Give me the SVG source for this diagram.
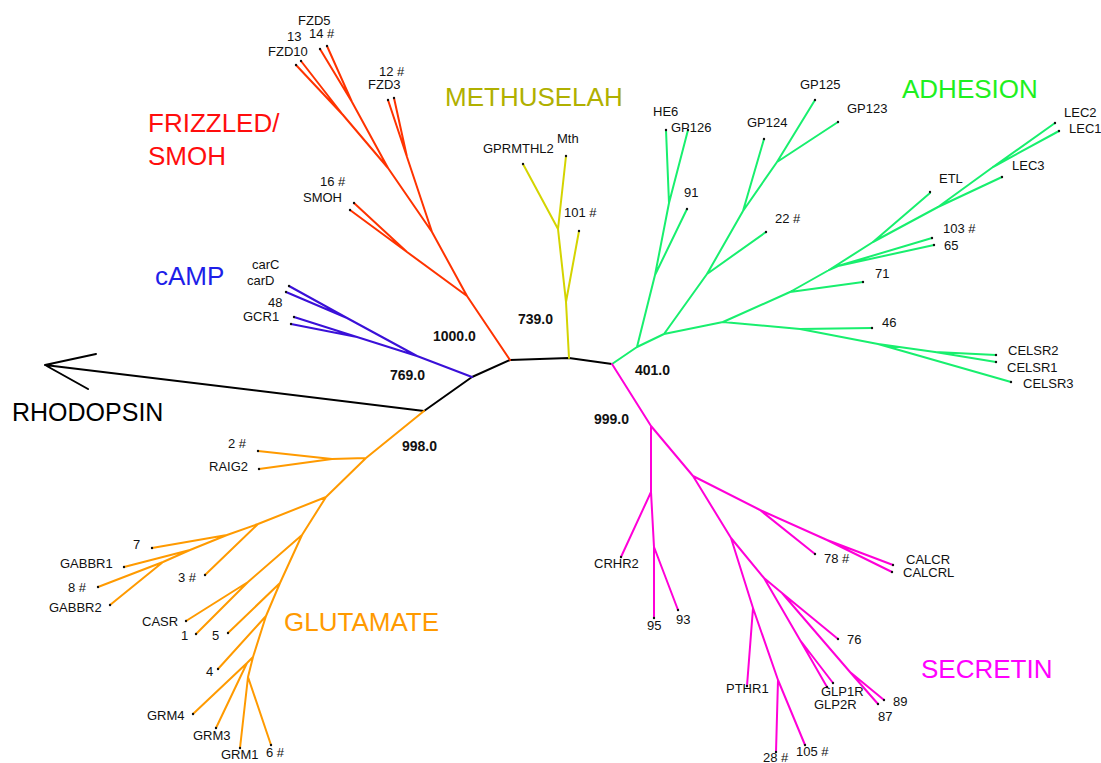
<svg xmlns="http://www.w3.org/2000/svg" width="1101" height="763" viewBox="0 0 1101 763">
<style>
text{font-family:"Liberation Sans",Arial,sans-serif}
.lbl{font-size:13px;fill:#111}
.bs{font-size:14px;font-weight:bold;fill:#111}
.title{font-size:26px}
.br{fill:none;stroke-width:2;stroke-linecap:round;stroke-linejoin:round}
.dot{fill:#111}
.bk{stroke:#000}
.fz{stroke:#ff3300}
.ca{stroke:#3a10d8}
.me{stroke:#d4d400}
.ad{stroke:#18ef6e}
.se{stroke:#ff00d8}
.gl{stroke:#ff9a00}
</style>
<g id="connectors">
<path class="br bk" d="M45,365 L424,411 L472,377 L510,360 L569,358 L612,364 M96,354 L45,365 L88,389"/>
<path class="br fz" d="M510,360 L467,296 M467,296 L407,252 L354,203 M407,252 L350,210 M467,296 L432,232 M432,232 L407,157 L394,98 M407,157 L388,100 M432,232 L388,168 M388,168 L343,115 L301,61 M343,115 L296,65 M388,168 L352,102 L327,46 M352,102 L320,49"/>
<path class="br ca" d="M472,377 L417,356 M417,356 L347,318 L289,286 M347,318 L286,292 M417,356 L357,337 L294,317 M357,337 L291,324"/>
<path class="br me" d="M569,358 L566,302 L558,229 L566,156 M558,229 L523,164 M566,302 L579,231"/>
<path class="br ad" d="M612,364 L637,347 M637,347 L655,275 L669,203 L666,130 M669,203 L688,130 M655,275 L687,209 M637,347 L664,334 M664,334 L707,274 L743,211 L777,162 L815,100 M777,162 L838,122 M743,211 L764,139 M707,274 L766,232 M664,334 L723,322 M723,322 L790,292 L829,270 L873,242 L930,193 M873,242 L938,207 L993,167 L1055,123 M993,167 L1059,131 M938,207 L1002,177 M829,270 L838,266 L932,238 M838,266 L934,245 M790,292 L863,282 M723,322 L800,329 L872,328 M800,329 L878,344 L935,352 L996,355 M935,352 L996,362 M878,344 L1011,382"/>
<path class="br se" d="M612,364 L651,426 M651,426 L651,492 L621,557 M651,492 L654,547 L654,618 M654,547 L678,610 M651,426 L693,476 M693,476 L760,510 L815,554 M760,510 L827,540 L893,565 M827,540 L892,572 M693,476 L731,538 M731,538 L753,608 L747,686 M753,608 L778,680 L776,752 M778,680 L805,745 M731,538 L764,578 M764,578 L800,640 L827,687 M800,640 L833,683 M764,578 L782,593 L838,639 M782,593 L850,672 L878,704 M850,672 L884,700"/>
<path class="br gl" d="M424,411 L366,458 M366,458 L332,459 L258,451 M332,459 L259,469 M366,458 L326,497 M326,497 L258,524 L205,575 M258,524 L227,535 L152,548 M227,535 L190,550 L124,567 M190,550 L163,562 L98,587 M163,562 L110,605 M326,497 L302,535 M302,535 L248,582 L186,621 M248,582 L196,634 M302,535 L280,583 L228,633 M280,583 L266,616 L218,669 M266,616 L253,657 L247,663 L193,714 M247,663 L216,728 M253,657 L248,677 L240,748 M248,677 L271,745"/>
</g>
<g id="bootstrap">
<text class="bs" x="433" y="341">1000.0</text>
<text class="bs" x="390" y="380">769.0</text>
<text class="bs" x="518" y="324">739.0</text>
<text class="bs" x="635" y="375">401.0</text>
<text class="bs" x="594" y="424">999.0</text>
<text class="bs" x="402" y="451">998.0</text>
</g>
<g id="title-frizzled"><text class="title" fill="#ff0d0d" x="148" y="132">FRIZZLED/</text><text class="title" fill="#ff0d0d" x="148" y="165">SMOH</text></g>
<g id="title-camp"><text class="title" fill="#1e1ee8" x="155" y="285">cAMP</text></g>
<g id="title-methuselah"><text class="title" fill="#b0b000" x="445" y="106">METHUSELAH</text></g>
<g id="title-adhesion"><text class="title" fill="#1ef01e" x="902" y="98">ADHESION</text></g>
<g id="title-rhodopsin"><text class="title" fill="#000" x="12" y="421" style="font-size:25px">RHODOPSIN</text></g>
<g id="title-glutamate"><text class="title" fill="#ff9a00" x="284" y="631">GLUTAMATE</text></g>
<g id="title-secretin"><text class="title" fill="#ff00ff" x="921" y="678">SECRETIN</text></g>
<g id="leaf-FZD5"><circle class="dot" cx="320" cy="49" r="1.2"/><text class="lbl" x="298" y="25">FZD5</text></g>
<g id="leaf-14"><circle class="dot" cx="327" cy="46" r="1.2"/><text class="lbl" x="309" y="38">14 #</text></g>
<g id="leaf-13"><circle class="dot" cx="301" cy="61" r="1.2"/><text class="lbl" x="287" y="41">13</text></g>
<g id="leaf-FZD10"><circle class="dot" cx="296" cy="65" r="1.2"/><text class="lbl" x="268" y="56">FZD10</text></g>
<g id="leaf-12"><circle class="dot" cx="394" cy="98" r="1.2"/><text class="lbl" x="379" y="76">12 #</text></g>
<g id="leaf-FZD3"><circle class="dot" cx="388" cy="100" r="1.2"/><text class="lbl" x="368" y="89">FZD3</text></g>
<g id="leaf-16"><circle class="dot" cx="354" cy="203" r="1.2"/><text class="lbl" x="320" y="186">16 #</text></g>
<g id="leaf-SMOH"><circle class="dot" cx="350" cy="210" r="1.2"/><text class="lbl" x="303" y="202">SMOH</text></g>
<g id="leaf-carC"><circle class="dot" cx="289" cy="286" r="1.2"/><text class="lbl" x="252" y="269">carC</text></g>
<g id="leaf-carD"><circle class="dot" cx="286" cy="292" r="1.2"/><text class="lbl" x="247" y="285">carD</text></g>
<g id="leaf-48"><circle class="dot" cx="294" cy="317" r="1.2"/><text class="lbl" x="268" y="307">48</text></g>
<g id="leaf-GCR1"><circle class="dot" cx="291" cy="324" r="1.2"/><text class="lbl" x="243" y="321">GCR1</text></g>
<g id="leaf-GPRMTHL2"><circle class="dot" cx="523" cy="164" r="1.2"/><text class="lbl" x="483" y="153">GPRMTHL2</text></g>
<g id="leaf-Mth"><circle class="dot" cx="566" cy="156" r="1.2"/><text class="lbl" x="557" y="143">Mth</text></g>
<g id="leaf-101"><circle class="dot" cx="579" cy="231" r="1.2"/><text class="lbl" x="564" y="217">101 #</text></g>
<g id="leaf-HE6"><circle class="dot" cx="666" cy="130" r="1.2"/><text class="lbl" x="653" y="116">HE6</text></g>
<g id="leaf-GP126"><circle class="dot" cx="688" cy="130" r="1.2"/><text class="lbl" x="671" y="132">GP126</text></g>
<g id="leaf-91"><circle class="dot" cx="687" cy="209" r="1.2"/><text class="lbl" x="684" y="197">91</text></g>
<g id="leaf-GP124"><circle class="dot" cx="764" cy="139" r="1.2"/><text class="lbl" x="747" y="127">GP124</text></g>
<g id="leaf-GP125"><circle class="dot" cx="815" cy="100" r="1.2"/><text class="lbl" x="800" y="89">GP125</text></g>
<g id="leaf-GP123"><circle class="dot" cx="838" cy="122" r="1.2"/><text class="lbl" x="847" y="113">GP123</text></g>
<g id="leaf-22"><circle class="dot" cx="766" cy="232" r="1.2"/><text class="lbl" x="775" y="223">22 #</text></g>
<g id="leaf-ETL"><circle class="dot" cx="930" cy="192" r="1.2"/><text class="lbl" x="939" y="183">ETL</text></g>
<g id="leaf-LEC2"><circle class="dot" cx="1055" cy="123" r="1.2"/><text class="lbl" x="1064" y="117">LEC2</text></g>
<g id="leaf-LEC1"><circle class="dot" cx="1059" cy="131" r="1.2"/><text class="lbl" x="1069" y="133">LEC1</text></g>
<g id="leaf-LEC3"><circle class="dot" cx="1002" cy="177" r="1.2"/><text class="lbl" x="1012" y="170">LEC3</text></g>
<g id="leaf-103"><circle class="dot" cx="932" cy="238" r="1.2"/><text class="lbl" x="943" y="233">103 #</text></g>
<g id="leaf-65"><circle class="dot" cx="934" cy="245" r="1.2"/><text class="lbl" x="944" y="250">65</text></g>
<g id="leaf-71"><circle class="dot" cx="863" cy="282" r="1.2"/><text class="lbl" x="875" y="278">71</text></g>
<g id="leaf-46"><circle class="dot" cx="872" cy="328" r="1.2"/><text class="lbl" x="882" y="327">46</text></g>
<g id="leaf-CELSR2"><circle class="dot" cx="996" cy="355" r="1.2"/><text class="lbl" x="1008" y="355">CELSR2</text></g>
<g id="leaf-CELSR1"><circle class="dot" cx="996" cy="362" r="1.2"/><text class="lbl" x="1007" y="372">CELSR1</text></g>
<g id="leaf-CELSR3"><circle class="dot" cx="1011" cy="382" r="1.2"/><text class="lbl" x="1023" y="388">CELSR3</text></g>
<g id="leaf-CRHR2"><circle class="dot" cx="621" cy="557" r="1.2"/><text class="lbl" x="594" y="568">CRHR2</text></g>
<g id="leaf-95"><circle class="dot" cx="654" cy="618" r="1.2"/><text class="lbl" x="647" y="630">95</text></g>
<g id="leaf-93"><circle class="dot" cx="678" cy="610" r="1.2"/><text class="lbl" x="676" y="624">93</text></g>
<g id="leaf-78"><circle class="dot" cx="815" cy="554" r="1.2"/><text class="lbl" x="824" y="563">78 #</text></g>
<g id="leaf-CALCR"><circle class="dot" cx="893" cy="565" r="1.2"/><text class="lbl" x="906" y="564">CALCR</text></g>
<g id="leaf-CALCRL"><circle class="dot" cx="892" cy="572" r="1.2"/><text class="lbl" x="903" y="577">CALCRL</text></g>
<g id="leaf-76"><circle class="dot" cx="838" cy="639" r="1.2"/><text class="lbl" x="847" y="644">76</text></g>
<g id="leaf-PTHR1"><circle class="dot" cx="747" cy="686" r="1.2"/><text class="lbl" x="726" y="693">PTHR1</text></g>
<g id="leaf-GLP1R"><circle class="dot" cx="833" cy="683" r="1.2"/><text class="lbl" x="821" y="696">GLP1R</text></g>
<g id="leaf-GLP2R"><circle class="dot" cx="827" cy="687" r="1.2"/><text class="lbl" x="814" y="709">GLP2R</text></g>
<g id="leaf-89"><circle class="dot" cx="884" cy="700" r="1.2"/><text class="lbl" x="893" y="706">89</text></g>
<g id="leaf-87"><circle class="dot" cx="878" cy="704" r="1.2"/><text class="lbl" x="878" y="721">87</text></g>
<g id="leaf-28"><circle class="dot" cx="776" cy="752" r="1.2"/><text class="lbl" x="763" y="762">28 #</text></g>
<g id="leaf-105"><circle class="dot" cx="805" cy="745" r="1.2"/><text class="lbl" x="796" y="756">105 #</text></g>
<g id="leaf-2"><circle class="dot" cx="258" cy="451" r="1.2"/><text class="lbl" x="228" y="448">2 #</text></g>
<g id="leaf-RAIG2"><circle class="dot" cx="259" cy="469" r="1.2"/><text class="lbl" x="209" y="471">RAIG2</text></g>
<g id="leaf-7"><circle class="dot" cx="152" cy="548" r="1.2"/><text class="lbl" x="133" y="549">7</text></g>
<g id="leaf-GABBR1"><circle class="dot" cx="124" cy="567" r="1.2"/><text class="lbl" x="60" y="568">GABBR1</text></g>
<g id="leaf-8"><circle class="dot" cx="98" cy="587" r="1.2"/><text class="lbl" x="68" y="592">8 #</text></g>
<g id="leaf-GABBR2"><circle class="dot" cx="110" cy="605" r="1.2"/><text class="lbl" x="49" y="612">GABBR2</text></g>
<g id="leaf-3"><circle class="dot" cx="205" cy="575" r="1.2"/><text class="lbl" x="178" y="582">3 #</text></g>
<g id="leaf-CASR"><circle class="dot" cx="186" cy="621" r="1.2"/><text class="lbl" x="142" y="626">CASR</text></g>
<g id="leaf-1"><circle class="dot" cx="196" cy="634" r="1.2"/><text class="lbl" x="181" y="640">1</text></g>
<g id="leaf-5"><circle class="dot" cx="228" cy="633" r="1.2"/><text class="lbl" x="212" y="640">5</text></g>
<g id="leaf-4"><circle class="dot" cx="218" cy="669" r="1.2"/><text class="lbl" x="206" y="676">4</text></g>
<g id="leaf-GRM4"><circle class="dot" cx="193" cy="714" r="1.2"/><text class="lbl" x="147" y="720">GRM4</text></g>
<g id="leaf-GRM3"><circle class="dot" cx="216" cy="728" r="1.2"/><text class="lbl" x="193" y="740">GRM3</text></g>
<g id="leaf-GRM1"><circle class="dot" cx="240" cy="748" r="1.2"/><text class="lbl" x="221" y="759">GRM1</text></g>
<g id="leaf-6"><circle class="dot" cx="271" cy="745" r="1.2"/><text class="lbl" x="266" y="757">6 #</text></g>
</svg>
